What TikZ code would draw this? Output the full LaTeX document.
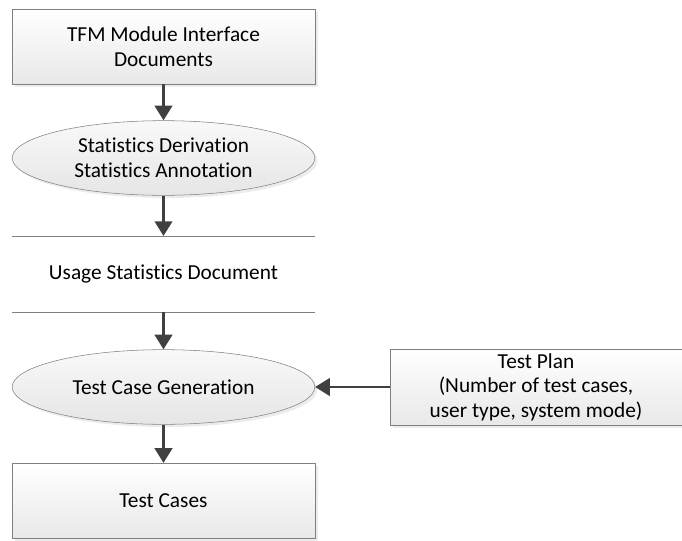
\documentclass[tikz,border=0pt]{standalone}
\usepackage{fontspec}
\setmainfont{Carlito}[RawFeature=-liga]
\usetikzlibrary{shapes.geometric,shadows,arrows.meta}
\definecolor{pfeil}{HTML}{404040}
\definecolor{rand}{HTML}{7F7F7F}
\tikzset{
  schrift/.style={font=\fontsize{16}{18.5}\selectfont},
  kasten/.style={schrift,draw=rand,top color=white,bottom color=gray!18,
    minimum width=227pt,minimum height=56pt,align=center,
    drop shadow={opacity=0.15,shadow xshift=2pt,shadow yshift=-2pt}},
  prozess/.style={schrift,ellipse,draw=rand,top color=gray!5,bottom color=gray!20,
    minimum width=227pt,minimum height=56pt,inner sep=0pt,align=center,
    drop shadow={opacity=0.15,shadow xshift=2pt,shadow yshift=-2pt}},
  fluss/.style={pfeil,line width=2.2pt,-{Triangle[length=11pt,width=13pt]}}
}
\begin{document}
\begin{tikzpicture}[x=0.75pt,y=-0.75pt]
\useasboundingbox (0,0) rectangle (682,540);
% Knoten der linken Spalte
\node[kasten]  (tfm)  at (163.5, 46.5) {TFM Module Interface\\Documents};
\node[prozess] (ableitung) at (163.5,158) {Statistics Derivation\\Statistics Annotation};
\node[schrift] (usage) at (163.5,274) {Usage Statistics Document};
\node[prozess] (gen)  at (163.5,387) {Test Case Generation};
\node[kasten]  (cases) at (163.5,500.5) {Test Cases};
% Testplan rechts
\node[kasten,minimum width=219pt] (plan) at (536,387) {Test Plan\\(Number of test cases,\\user type, system mode)};
% Datenspeicher (zwei Linien)
\coordinate (s1a) at (12,236);  \coordinate (s1b) at (315,236);
\coordinate (s2a) at (12,312);  \coordinate (s2b) at (315,312);
\draw[rand] (s1a) -- (s1b);
\draw[rand] (s2a) -- (s2b);
\coordinate (s1) at (163.5,236);
\coordinate (s2) at (163.5,312);
% Pfeile
\draw[fluss] (tfm) -- (ableitung);
\draw[fluss] (ableitung) -- (s1);
\draw[fluss] (s2) -- (gen);
\draw[fluss] (gen) -- (cases);
\draw[fluss] (plan) -- (gen);
\end{tikzpicture}
\end{document}
